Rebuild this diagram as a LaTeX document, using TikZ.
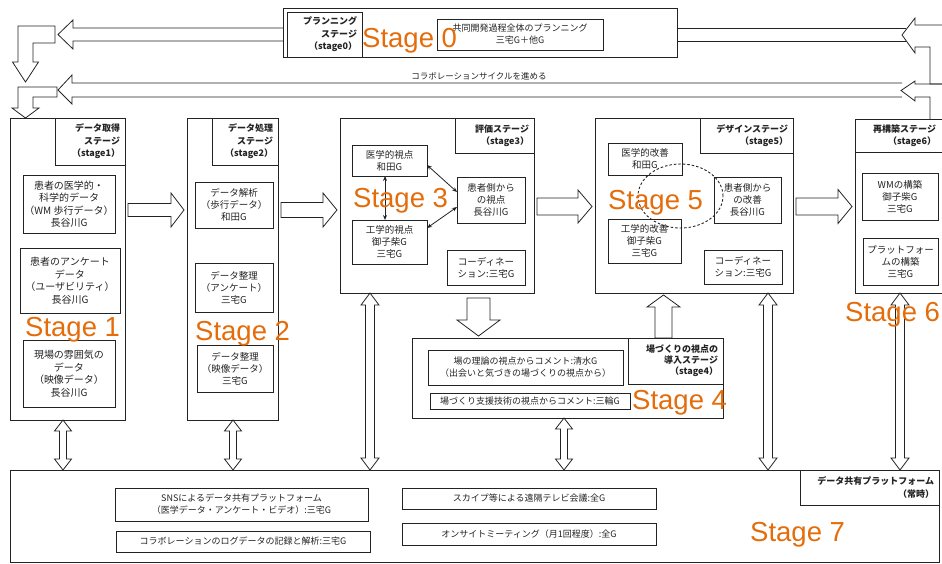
\documentclass[tikz,border=0pt]{standalone}
\usepackage{fontspec}
\setmainfont{Noto Sans CJK JP}
\newfontfamily\stagefont{Liberation Sans}
\usetikzlibrary{calc,arrows.meta}
\definecolor{stageorange}{RGB}{228,108,10}
\definecolor{ink}{RGB}{35,35,35}

% box by its corners: [options]{name}{x1}{y1}{x2}{y2}{text}
\newcommand\mkbox[7][]{%
  \pgfmathsetmacro\bw{#5-#3}%
  \pgfmathsetmacro\bh{#6-#4}%
  \pgfmathsetmacro\bt{#5-#3-10}%
  \node[box,minimum width=\bw pt,minimum height=\bh pt,anchor=north west,#1] (#2) at (#3,#4) {#7};}

\tikzset{
  box/.style={draw=ink,line width=0.9pt,inner sep=0pt,outer sep=0pt,align=center,
    text=ink,font=\fontsize{9.5}{12}\selectfont},
  small/.style={font=\fontsize{9}{12}\selectfont},
  large/.style={font=\fontsize{10}{12.5}\selectfont},
  lbl/.style={font=\bfseries\fontsize{9}{12.5}\selectfont,align=right,text width=\bt pt,inner xsep=5pt},
  blk/.style={draw=ink,line width=0.8pt,line join=miter},
  stg/.style={font=\stagefont\fontsize{27.5}{28}\selectfont,text=stageorange,inner sep=0pt,anchor=base west},
  % hollow block arrow pointing right: {half shaft}{half head}{head length}
  rarr/.style n args={3}{to path={
    ($(\tikztostart)+(3,-#1)$) -- ($(\tikztotarget)+(-3-#3,-#1)$) -- ($(\tikztotarget)+(-3-#3,-#2)$)
    -- ($(\tikztotarget)+(-3,0)$) -- ($(\tikztotarget)+(-3-#3,#2)$) -- ($(\tikztotarget)+(-3-#3,#1)$)
    -- ($(\tikztostart)+(3,#1)$) -- cycle}},
  % hollow block arrow pointing down
  darr/.style n args={3}{to path={
    ($(\tikztostart)+(-#1,5)$) -- ($(\tikztotarget)+(-#1,-2-#3)$) -- ($(\tikztotarget)+(-#2,-2-#3)$)
    -- ($(\tikztotarget)+(0,-2)$) -- ($(\tikztotarget)+(#2,-2-#3)$) -- ($(\tikztotarget)+(#1,-2-#3)$)
    -- ($(\tikztostart)+(#1,5)$) -- cycle}},
  % hollow block arrow pointing up
  uarr/.style n args={3}{to path={
    ($(\tikztostart)+(-#1,0)$) -- ($(\tikztotarget)+(-#1,2+#3)$) -- ($(\tikztotarget)+(-#2,2+#3)$)
    -- ($(\tikztotarget)+(0,2)$) -- ($(\tikztotarget)+(#2,2+#3)$) -- ($(\tikztotarget)+(#1,2+#3)$)
    -- ($(\tikztostart)+(#1,0)$) -- cycle}},
  % hollow double-headed vertical block arrow
  vdbl/.style n args={3}{to path={
    (\tikztostart) -- ($(\tikztostart)+(#2,#3)$) -- ($(\tikztostart)+(#1,#3)$)
    -- ($(\tikztotarget)+(#1,-#3)$) -- ($(\tikztotarget)+(#2,-#3)$) -- (\tikztotarget)
    -- ($(\tikztotarget)+(-#2,-#3)$) -- ($(\tikztotarget)+(-#1,-#3)$)
    -- ($(\tikztostart)+(-#1,#3)$) -- ($(\tikztostart)+(-#2,#3)$) -- cycle}},
  thin/.style={draw=ink,line width=0.8pt,{Stealth[length=5pt,width=4pt]}-{Stealth[length=5pt,width=4pt]}},
}

\begin{document}
\begin{tikzpicture}[x=1pt,y=-1pt]
\useasboundingbox (0,0) rectangle (942,563);

% ---- stage 0 : planning
\mkbox{s0}{283}{8}{677}{57}{}
\mkbox[lbl]{s0l}{287}{12}{362}{57}{プランニング\\ステージ\\（stage0）}
\mkbox[small]{s0t}{437}{19}{603}{50}{共同開発過程全体のプランニング\\三宅G＋他G}

% ---- stage 1 : data acquisition
\mkbox{s1}{10}{118}{125}{420}{}
\mkbox[lbl]{s1l}{55}{118}{125}{165}{データ取得\\ステージ\\（stage1）}
\mkbox[large]{s1a}{23}{175}{115}{233}{患者の医学的・\\科学的データ\\（WM 歩行データ）\\長谷川G}
\mkbox[large]{s1b}{20}{248}{120}{313}{患者のアンケート\\データ\\（ユーザビリティ）\\長谷川G}
\mkbox[large]{s1c}{23}{340}{115}{407}{現場の雰囲気の\\データ\\（映像データ）\\長谷川G}

% ---- stage 2 : data processing
\mkbox{s2}{187}{118}{278}{420}{}
\mkbox[lbl]{s2l}{212}{118}{278}{165}{データ処理\\ステージ\\（stage2）}
\mkbox{s2a}{195}{182}{273}{228}{データ解析\\（歩行データ）\\和田G}
\mkbox{s2b}{195}{263}{273}{312}{データ整理\\（アンケート）\\三宅G}
\mkbox{s2c}{197}{345}{273}{392}{データ整理\\（映像データ）\\三宅G}

% ---- stage 3 : evaluation
\mkbox{s3}{340}{118}{534}{293}{}
\mkbox[lbl]{s3l}{455}{118}{534}{153}{評価ステージ\\（stage3）}
\mkbox{m3}{352}{145}{427}{176}{医学的視点\\和田G}
\mkbox{p3}{457}{177}{525}{223}{患者側から\\の視点\\長谷川G}
\mkbox{e3}{352}{220}{427}{264}{工学的視点\\御子柴G\\三宅G}
\mkbox{c3}{447}{250}{525}{285}{コーディネー\\ション:三宅G}
\coordinate (c3v) at (385,0);
\draw[thin] (c3v |- m3.south) -- (c3v |- e3.north);
\draw[thin] ([yshift=11pt]m3.south east) -- ([yshift=-15pt]p3.north west);
\draw[thin] ([yshift=-8pt]e3.north east) -- ([yshift=-30pt]p3.north west);

% ---- stage 5 : design
\mkbox{s5}{595}{118}{793}{293}{}
\mkbox[lbl]{s5l}{700}{118}{793}{153}{デザインステージ\\（stage5）}
\mkbox{m5}{608}{143}{682}{175}{医学的改善\\和田G}
\mkbox{p5}{714}{177}{781}{223}{患者側から\\の改善\\長谷川G}
\mkbox{e5}{608}{219}{681}{263}{工学的改善\\御子柴G\\三宅G}
\mkbox{c5}{704}{250}{782}{284}{コーディネー\\ション:三宅G}
\draw[draw=ink,line width=0.9pt,dash pattern=on 2.5pt off 2pt] (680.5,196) ellipse [x radius=42.5pt, y radius=32pt];

% ---- stage 6 : rebuilding
\mkbox{s6}{855}{119}{952}{293}{}
\mkbox[lbl,draw=none]{s6l}{855}{119}{941}{152}{再構築ステージ\\（stage6）}
\draw[draw=ink,line width=0.9pt] (s6l.south west) -- (s6l.south -| s6.east);
\mkbox{w6}{862}{173}{938}{220}{WMの構築\\御子柴G\\三宅G}
\mkbox{f6}{863}{238}{938}{285}{プラットフォー\\ムの構築\\三宅G}

% ---- stage 4 : introducing the ba viewpoint
\mkbox{s4}{412}{338}{723}{418}{}
\mkbox[lbl,font=\bfseries\fontsize{9}{11}\selectfont]{s4l}{628}{338}{723}{384}{場づくりの視点の\\導入ステージ\\（stage4）}
\mkbox[small]{t4a}{428}{350}{623}{385}{場の理論の視点からコメント:清水G\\（出会いと気づきの場づくりの視点から）}
\mkbox[small]{t4b}{430}{393}{630}{409}{場づくり支援技術の視点からコメント:三輪G}

% ---- stage 7 : shared data platform
\mkbox{s7}{10}{470}{939}{562}{}
\mkbox[lbl]{s7l}{800}{470}{939}{505}{データ共有プラットフォーム\\（常時）}
\mkbox[small]{b7a}{115}{488}{368}{521}{SNSによるデータ共有プラットフォーム\\（医学データ・アンケート・ビデオ）:三宅G}
\mkbox[small]{b7b}{116}{531}{370}{552}{コラボレーションのログデータの記録と解析:三宅G}
\mkbox[small]{b7c}{402}{488}{656}{509}{スカイプ等による遠隔テレビ会議:全G}
\mkbox[small]{b7d}{402}{523}{656}{545}{オンサイトミーティング（月1回程度）:全G}

% ---- flow between stages
\coordinate (ra) at (0,210);
\coordinate (rb) at (0,206.5);
\draw[blk,rarr={6.5}{17}{13}] (s1.east |- ra) to (s2.west |- ra);
\draw[blk,rarr={7.5}{17}{14}] (s2.east |- ra) to (s3.west |- ra);
\draw[blk,rarr={8.5}{16.5}{14}] (s3.east |- rb) to (s5.west |- rb);
\draw[blk,rarr={8.5}{17}{14}] (s5.east |- rb) to (s6.west |- rb);
\coordinate (d34) at (478.5,0);
\draw[blk,darr={11.5}{21.5}{16}] (d34 |- s3.south) to (d34 |- s4.north);
\coordinate (u45) at (663.5,0);
\draw[blk,uarr={8.5}{16.5}{12}] (u45 |- s4.north) to (u45 |- s5.south);

% links to the shared platform
\coordinate (v1) at (63,0);
\coordinate (v2) at (233,0);
\coordinate (v3) at (370,0);
\coordinate (v4) at (564,0);
\coordinate (v5) at (768,0);
\coordinate (v6) at (900,0);
\draw[blk,vdbl={3.5}{8.5}{11}] (v1 |- s1.south) to (v1 |- s7.north);
\draw[blk,vdbl={3.5}{8.5}{11}] (v2 |- s2.south) to (v2 |- s7.north);
\draw[blk,vdbl={4.5}{9}{12}] (v3 |- s3.south) to (v3 |- s7.north);
\draw[blk,vdbl={3.5}{8.5}{11}] (v4 |- s4.south) to (v4 |- s7.north);
\draw[blk,vdbl={4.5}{9}{12}] (v5 |- s5.south) to (v5 |- s7.north);
\draw[blk,vdbl={4.5}{9}{12}] (v6 |- s6.south) to (v6 |- s7.north);

% ---- return path to planning and the collaboration cycle
% riser from stage 6 into the planning feed
\draw[blk] (952,84) -- (930,84) -- (930,47) -- (915,47) -- (915,53) -- (902,35)
  -- (915,18) -- (915,25) -- (952,25);
\draw[blk] (677,28) -- (906,28);
\draw[blk] (677,41) -- (906,41);
% planning feed out to stage 1
\draw[blk] (283,28) -- (73,28) -- (73,20) -- (58,34.5) -- (73,49) -- (73,41) -- (283,41);
\draw[blk] (55,26) -- (18,26) -- (18,62) -- (12.5,62) -- (25.5,82) -- (38.5,62) -- (33,62)
  -- (33,43) -- (55,43) -- cycle;
% collaboration cycle
\draw[blk] (952,84) -- (915,84) -- (915,81) -- (901,90.5) -- (915,101) -- (915,97)
  -- (930,97) -- (930,119);
\draw[blk] (902,83) -- (72,83) -- (72,75) -- (58,90) -- (72,104) -- (72,97) -- (902,97);
\draw[blk] (57,87) -- (18,87) -- (18,108) -- (12,108) -- (25.5,118) -- (39,108) -- (33,108)
  -- (33,97) -- (57,97) -- cycle;
\node[text=ink,font=\fontsize{8.5}{10}\selectfont,inner sep=0pt] (cyc) at (479,76)
  {コラボレーションサイクルを進める};

% ---- stage captions
\node[stg] (cap0) at (362,47) {Stage 0};
\node[stg] (cap1) at (25,336) {Stage 1};
\node[stg] (cap2) at (195,340) {Stage 2};
\node[stg] (cap3) at (353,207) {Stage 3};
\node[stg] (cap4) at (632,409) {Stage 4};
\node[stg] (cap5) at (608,209) {Stage 5};
\node[stg] (cap6) at (845,321) {Stage 6};
\node[stg] (cap7) at (750,541) {Stage 7};
\end{tikzpicture}
\end{document}
